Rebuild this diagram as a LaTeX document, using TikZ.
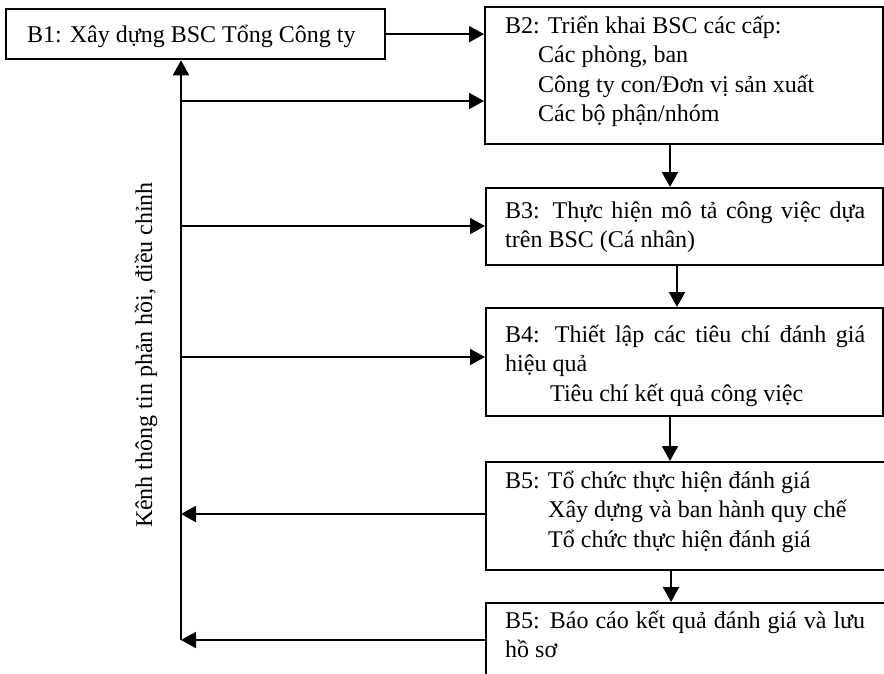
\documentclass[tikz,border=0pt]{standalone}
\usepackage{fontspec}
\setmainfont{Liberation Serif}
\usetikzlibrary{arrows.meta}
\begin{document}
\begin{tikzpicture}[x=1pt,y=-1pt,
  box/.style={draw, line width=2.3pt, inner sep=0pt, anchor=north west},
  txt/.style={inner sep=0pt, anchor=north west, font=\fontsize{24pt}{29.5pt}\selectfont, align=left},
  conn/.style={line width=2pt},
  arr/.style={conn, -{Triangle[length=15pt,width=16pt]}}]
\useasboundingbox (0,0) rectangle (884,673);
\clip (0,0) rectangle (884,673);
% boxes
\node[box, minimum width=379pt, minimum height=50pt] (b1) at (5,8) {};
\node[box, minimum width=398pt, minimum height=137pt] (b2) at (484,6) {};
\node[box, minimum width=397pt, minimum height=77pt] (b3) at (485,187) {};
\node[box, minimum width=397pt, minimum height=108pt] (b4) at (485,307) {};
\node[box, minimum width=420pt, minimum height=108pt] (b5a) at (485,461) {};
\node[box, minimum width=420pt, minimum height=110pt] (b5b) at (485,602) {};
% texts
\node[txt] (t1) at (27,16) {\rule{0pt}{26pt}B1: Xây dựng BSC Tổng Công ty};
\node[txt] (t2) at (505,7) {\rule{0pt}{26pt}B2: Triển khai BSC các cấp:\\
  \hspace*{33pt}Các phòng, ban\\
  \hspace*{33pt}Công ty con/Đơn vị sản xuất\\
  \hspace*{33pt}Các bộ phận/nhóm};
\node[txt] (t3) at (505,192) {\rule{0pt}{26pt}\makebox[360pt][s]{B3: Thực hiện mô tả công việc dựa}\\
  trên BSC (Cá nhân)};
\node[txt] (t4) at (505,316) {\rule{0pt}{26pt}\makebox[360pt][s]{B4: Thiết lập các tiêu chí đánh giá}\\
  hiệu quả\\
  \hspace*{45pt}Tiêu chí kết quả công việc};
\node[txt] (t5) at (505,462) {\rule{0pt}{26pt}B5: Tổ chức thực hiện đánh giá\\
  \hspace*{43pt}Xây dựng và ban hành quy chế\\
  \hspace*{43pt}Tổ chức thực hiện đánh giá};
\node[txt] (t6) at (505,602) {\rule{0pt}{26pt}\makebox[360pt][s]{B5: Báo cáo kết quả đánh giá và lưu}\\
  hồ sơ};
\node[inner sep=0pt, rotate=90, anchor=base, font=\fontsize{24pt}{29.5pt}\selectfont] (lbl) at (152,355) {Kênh thông tin phản hồi, điều chỉnh};
% coordinates
\coordinate (fbot) at (181,640);
\coordinate (f2) at (181,101);
\coordinate (f3) at (181,226);
\coordinate (f4) at (181,357);
\coordinate (f5) at (181,514);
\coordinate (v1) at (670,0);
\coordinate (v2) at (677,0);
\coordinate (v3) at (670,0);
\coordinate (v4) at (671,0);
% connectors
\draw[arr] (b1.east) -- (b1.east -| b2.west);
\draw[arr] (fbot) -- (fbot |- b1.south);
\draw[arr] (f2) -- (f2 -| b2.west);
\draw[arr] (f3) -- (f3 -| b3.west);
\draw[arr] (f4) -- (f4 -| b4.west);
\draw[arr] (f5 -| b5a.west) -- (f5);
\draw[arr] (fbot -| b5b.west) -- (fbot);
\draw[arr] (v1 |- b2.south) -- (v1 |- b3.north);
\draw[arr] (v2 |- b3.south) -- (v2 |- b4.north);
\draw[arr] (v3 |- b4.south) -- (v3 |- b5a.north);
\draw[arr] (v4 |- b5a.south) -- (v4 |- b5b.north);
\end{tikzpicture}
\end{document}
